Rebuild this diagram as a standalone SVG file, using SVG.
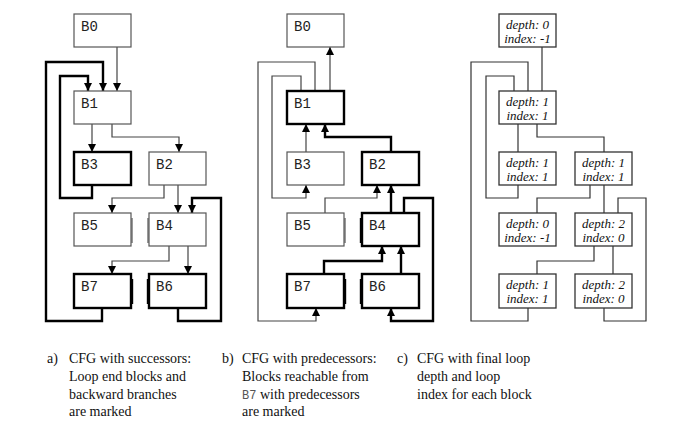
<svg xmlns="http://www.w3.org/2000/svg" width="687" height="438" viewBox="0 0 687 438">
<style>
.box{fill:#fff;stroke:#555;stroke-width:1.2}
.tb{stroke:#000;stroke-width:2.4}
.cb{fill:#fff;stroke:#333;stroke-width:1.3}
.notch{stroke:#555;stroke-width:1.2;fill:none}
.tn{stroke:#000;stroke-width:1.4}
.lbl{font-family:"Liberation Mono",monospace;font-size:14px;fill:#222}
.ci{font-family:"Liberation Serif",serif;font-style:italic;font-size:13px;fill:#111;text-anchor:middle}
.e{fill:none;stroke:#444;stroke-width:1.2}
.be{fill:none;stroke:#000;stroke-width:2.4}
.ce{fill:none;stroke:#333;stroke-width:1.2}
.cap{font-family:"Liberation Serif",serif;font-size:14px;fill:#111}
.capm{font-family:"Liberation Mono",monospace;font-size:12px;fill:#555}
</style>
<defs>
<marker id="ah" markerUnits="userSpaceOnUse" markerWidth="8" markerHeight="8" refX="8" refY="4" orient="auto" viewBox="0 0 8 8">
<path d="M0,0 L8,4 L0,8 z" fill="#000"/>
</marker>
</defs>

<!-- Panel a -->
<g id="panel-a">
<g id="connectors-a">
<path class="e" d="M117,47 V91" marker-end="url(#ah)"/>
<path class="e" d="M92,124 V152" marker-end="url(#ah)"/>
<path class="e" d="M112,124 V137 H179 V152" marker-end="url(#ah)"/>
<path class="e" d="M164,185 V198 H112 V213" marker-end="url(#ah)"/>
<path class="e" d="M178,185 V213" marker-end="url(#ah)"/>
<path class="e" d="M169,246 V261 H112 V274" marker-end="url(#ah)"/>
<path class="e" d="M188,246 V274" marker-end="url(#ah)"/>
<path class="be" d="M92,185 V198 H60 V76 H88 V91" marker-end="url(#ah)"/>
<path class="be" d="M102,308 V321 H46 V62 H103 V91" marker-end="url(#ah)"/>
<path class="be" d="M178,308 V321 H221 V198 H192 V213" marker-end="url(#ah)"/>
</g>
<g id="a-B0"><rect class="box" x="74" y="14" width="57" height="33"/><text class="lbl" x="81" y="31">B0</text></g>
<g id="a-B1"><rect class="box" x="74" y="91" width="57" height="33"/><text class="lbl" x="81" y="108">B1</text></g>
<g id="a-B3"><rect class="box tb" x="74" y="152" width="57" height="33"/><text class="lbl" x="81" y="169">B3</text></g>
<g id="a-B2"><rect class="box" x="149" y="152" width="57" height="33"/><text class="lbl" x="156" y="169">B2</text></g>
<g id="a-B5"><rect class="box" x="74" y="213" width="57" height="33"/><path class="notch" d="M132,218 V243"/><text class="lbl" x="81" y="230">B5</text></g>
<g id="a-B4"><rect class="box" x="149" y="213" width="57" height="33"/><path class="notch" d="M148,218 V243"/><text class="lbl" x="156" y="230">B4</text></g>
<g id="a-B7"><rect class="box tb" x="74" y="274" width="57" height="34"/><path class="notch tn" d="M132.5,279 V304"/><text class="lbl" x="81" y="291">B7</text></g>
<g id="a-B6"><rect class="box tb" x="149" y="274" width="57" height="34"/><path class="notch tn" d="M147.5,279 V304"/><text class="lbl" x="156" y="291">B6</text></g>
</g>

<!-- Panel b -->
<g id="panel-b" transform="translate(213,0)">
<g id="connectors-b">
<path class="e" d="M117,91 V47" marker-end="url(#ah)"/>
<path class="e" d="M93,152 V124" marker-end="url(#ah)"/>
<path class="be" d="M178,152 V137 H112 V124" marker-end="url(#ah)"/>
<path class="e" d="M112,213 V198 H164 V185" marker-end="url(#ah)"/>
<path class="be" d="M178,213 V185" marker-end="url(#ah)"/>
<path class="be" d="M111,274 V261 H169 V246" marker-end="url(#ah)"/>
<path class="be" d="M188,274 V246" marker-end="url(#ah)"/>
<path class="e" d="M88,91 V76 H59 V198 H93 V185" marker-end="url(#ah)"/>
<path class="e" d="M102,91 V62 H45 V321 H103 V308" marker-end="url(#ah)"/>
<path class="be" d="M191,213 V198 H220 V321 H178 V308" marker-end="url(#ah)"/>
</g>
<g id="b-B0"><rect class="box" x="74" y="14" width="57" height="33"/><text class="lbl" x="81" y="31">B0</text></g>
<g id="b-B1"><rect class="box tb" x="74" y="91" width="57" height="33"/><text class="lbl" x="81" y="108">B1</text></g>
<g id="b-B3"><rect class="box" x="74" y="152" width="57" height="33"/><text class="lbl" x="81" y="169">B3</text></g>
<g id="b-B2"><rect class="box tb" x="149" y="152" width="57" height="33"/><text class="lbl" x="156" y="169">B2</text></g>
<g id="b-B5"><rect class="box" x="74" y="213" width="57" height="33"/><path class="notch" d="M132,218 V243"/><text class="lbl" x="81" y="230">B5</text></g>
<g id="b-B4"><rect class="box tb" x="149" y="213" width="57" height="33"/><path class="notch tn" d="M147.5,218 V243"/><text class="lbl" x="156" y="230">B4</text></g>
<g id="b-B7"><rect class="box tb" x="74" y="274" width="57" height="34"/><path class="notch tn" d="M132.5,279 V304"/><text class="lbl" x="81" y="291">B7</text></g>
<g id="b-B6"><rect class="box tb" x="149" y="274" width="57" height="34"/><path class="notch tn" d="M147.5,279 V304"/><text class="lbl" x="156" y="291">B6</text></g>
</g>

<!-- Panel c -->
<g id="panel-c" transform="translate(425,0)">
<g id="connectors-c">
<path class="ce" d="M117,47 V91"/>
<path class="ce" d="M93,124 V152"/>
<path class="ce" d="M112,124 V137 H179 V152"/>
<path class="ce" d="M165,185 V198 H112 V213"/>
<path class="ce" d="M179,185 V213"/>
<path class="ce" d="M169,246 V261 H112 V274"/>
<path class="ce" d="M188,246 V274"/>
<path class="ce" d="M93,185 V198 H61 V76 H89 V91"/>
<path class="ce" d="M103,308 V321 H46 V62 H103 V91"/>
<path class="ce" d="M179,308 V321 H221 V198 H193 V213"/>
</g>
<g id="c-B0"><rect class="cb" x="74" y="14" width="57" height="33"/><text class="ci" x="102.5" y="28.5">depth: 0</text><text class="ci" x="102.5" y="42.5">index: -1</text></g>
<g id="c-B1"><rect class="cb" x="74" y="91" width="57" height="33"/><text class="ci" x="102.5" y="105.5">depth: 1</text><text class="ci" x="102.5" y="119.5">index: 1</text></g>
<g id="c-B3"><rect class="cb" x="74" y="152" width="57" height="33"/><text class="ci" x="102.5" y="166.5">depth: 1</text><text class="ci" x="102.5" y="180.5">index: 1</text></g>
<g id="c-B2"><rect class="cb" x="150" y="152" width="57" height="33"/><text class="ci" x="178.5" y="166.5">depth: 1</text><text class="ci" x="178.5" y="180.5">index: 1</text></g>
<g id="c-B5"><rect class="cb" x="74" y="213" width="57" height="33"/><text class="ci" x="102.5" y="227.5">depth: 0</text><text class="ci" x="102.5" y="241.5">index: -1</text></g>
<g id="c-B4"><rect class="cb" x="150" y="213" width="57" height="33"/><text class="ci" x="178.5" y="227.5">depth: 2</text><text class="ci" x="178.5" y="241.5">index: 0</text></g>
<g id="c-B7"><rect class="cb" x="74" y="274" width="57" height="34"/><text class="ci" x="102.5" y="288.5">depth: 1</text><text class="ci" x="102.5" y="302.5">index: 1</text></g>
<g id="c-B6"><rect class="cb" x="150" y="274" width="57" height="34"/><text class="ci" x="178.5" y="288.5">depth: 2</text><text class="ci" x="178.5" y="302.5">index: 0</text></g>
</g>

<!-- Captions -->
<g id="captions">
<text class="cap" x="47" y="363">a)</text>
<text class="cap" x="69" y="363">CFG with successors:</text>
<text class="cap" x="69" y="381">Loop end blocks and</text>
<text class="cap" x="69" y="398.5">backward branches</text>
<text class="cap" x="69" y="416">are marked</text>
<text class="cap" x="222" y="363">b)</text>
<text class="cap" x="242" y="363">CFG with predecessors:</text>
<text class="cap" x="242" y="381">Blocks reachable from</text>
<text class="cap" x="242" y="398.5"><tspan class="capm">B7</tspan> with predecessors</text>
<text class="cap" x="242" y="416">are marked</text>
<text class="cap" x="397" y="363">c)</text>
<text class="cap" x="417" y="363">CFG with final loop</text>
<text class="cap" x="417" y="381">depth and loop</text>
<text class="cap" x="417" y="398.5">index for each block</text>
</g>
</svg>
